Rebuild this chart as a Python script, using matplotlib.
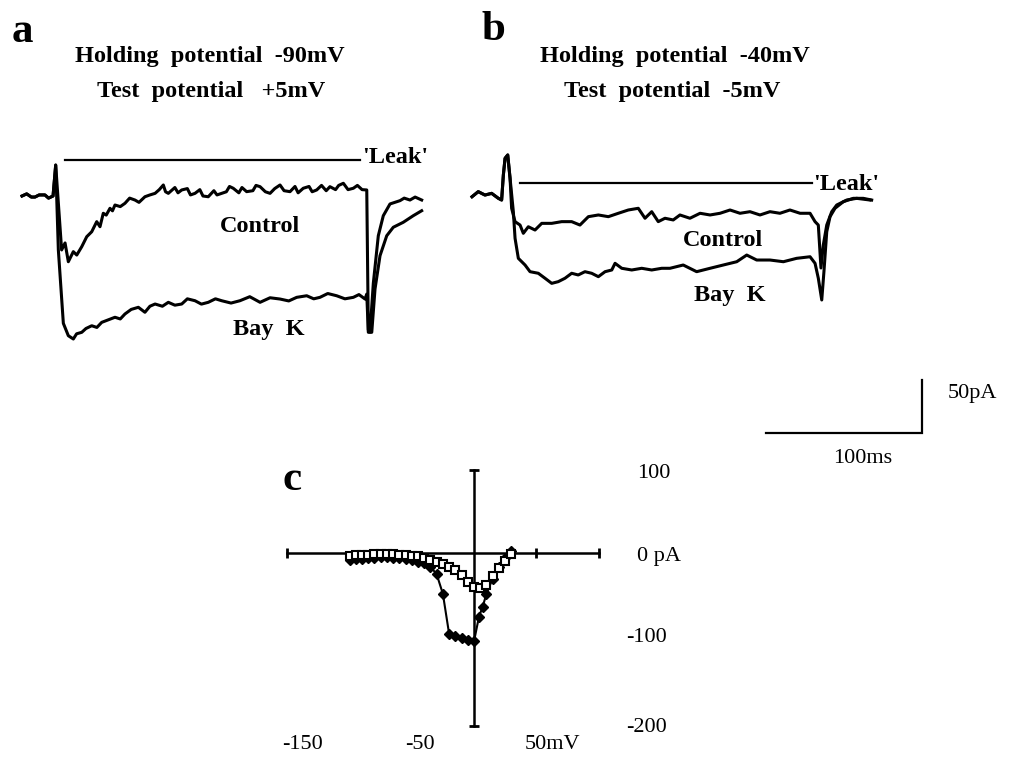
import numpy as np
import matplotlib.pyplot as plt

# Dimensoes da figura em pixels
W, H = 1013, 770

# ---- Dados dos registros (tempo em ms, corrente em pA) ----
# Painel a: potencial de manutencao -90mV, teste +5mV
t_a_control = [0, 3, 6, 8.3, 11, 14.7, 17, 19.9, 21.6, 25.4, 27.6, 29.7, 32.9, 35.1, 38.3, 41.5,
               44.7, 47.9, 50, 52.1, 54, 56.4, 58, 59.6, 63, 66, 69, 72.4, 75, 78.8, 82, 85.3,
               88, 90.6, 92, 93.8, 98, 100, 102.4, 106, 108, 110.9, 114, 116, 119.4, 123, 125,
               128, 131, 133, 135.4, 139, 141, 144, 148, 150, 152.6, 156, 159, 162, 165.4, 168,
               171.8, 175, 177, 180.3, 184, 186, 188.9, 192, 195, 197.4, 201, 203, 206, 209,
               212.4, 215, 218, 221, 222, 223.1, 225.2, 228.4, 231.6, 235.9, 239, 242.3, 245,
               248.7, 252, 256.2]
i_a_control = [0, 2, -1, -1, 1, 1, -2, 0, 29.2, -50.9, -44.3, -62, -52.5, -55.7, -47.8, -38.4,
               -33.7, -24.2, -29, -16.3, -18, -11.6, -14, -8.5, -10, -6.9, -2, -3.8, -6, -0.7,
               1, 2.5, 6, 10.4, 4, 2.5, 8, 3, 5.7, 7, 1, 2.5, 6, 0, -0.7, 5, 1, 2.5, 4, 9, 7.3,
               3, 8, 4.1, 5, 10, 8.8, 4, 2.5, 7, 10.4, 5, 4.1, 9, 3, 7.3, 9, 4, 5.7, 10, 5, 8.8,
               6, 10, 12, 6, 7.3, 10, 6, 5.7, -126.4, -128.3, -82.4, -37.5, -18.6, -7.5, -6,
               -4.4, -2, -3.8, -1, -3.8]

t_a_bayk = [0, 3, 6, 8.3, 11, 14.7, 17, 19.9, 21.6, 23.3, 26.5, 29.7, 32.9, 35, 38.3, 41, 44.7,
            48, 51.1, 55, 59.6, 63, 66, 70, 74.6, 78.8, 82, 85.3, 90, 93.8, 98, 102.4, 106,
            110.9, 115, 119.4, 124, 128, 134, 139.7, 146, 152.6, 159, 165.4, 171, 176.1, 182.5,
            187, 191, 196, 201.7, 207, 212.4, 216, 219.9, 221, 222, 224.2, 226.3, 229.5, 233.8,
            238, 244.4, 250.8, 256.2]
i_a_bayk = [0, 2, -1, -1, 1, 1, -2, 0, 29.2, -50.9, -120.1, -131.8, -134.9, -130, -128.6, -125,
            -122.4, -124, -119.2, -117, -114.4, -116, -111.3, -107, -105, -109.7, -104, -101.9,
            -104, -100.3, -103, -101.9, -97, -98.8, -102, -100.3, -97, -98.8, -101, -98.8, -95,
            -100.3, -96, -97.2, -99, -95.6, -94.1, -97, -95.6, -92, -94.1, -97, -95.6, -93,
            -97.2, -92.5, -128.6, -128.6, -87.7, -56.3, -37.5, -29.5, -24.8, -18.6, -13.9]

leak_a_t = [27.6, 216.7]
leak_a_i = [34, 34]

# Painel b: potencial de manutencao -40mV, teste -5mV
t_b_control = [0, 4, 8.3, 12.6, 16.9, 19, 20.1, 21.2, 22.9, 24.4, 25.4, 27.6, 30.8, 32.9, 36.1,
               40.4, 44.7, 51.1, 57.5, 63.9, 69.2, 74.6, 81, 87.4, 93.8, 100.2, 106.6, 110.9,
               115.2, 119.4, 123.7, 129, 133.3, 139.7, 146.2, 152.6, 159, 165.4, 171.8, 178.2,
               184.6, 191, 197.4, 203.8, 210.3, 216.7, 219.9, 222, 223.7, 225.2, 227.4, 230.6,
               233.8, 240.2, 246.6, 255.1]
i_b_control = [-0.7, 4.1, 0.9, 2.5, -2.2, -3.8, 19.8, 35.6, 38.7, 16.7, -11.6, -24.2, -27.4,
               -35.2, -29, -32.1, -25.8, -25.8, -24.2, -24.2, -27.4, -19.5, -17.9, -19.5, -16.3,
               -13.2, -11.6, -21, -14.8, -24.2, -21, -22.6, -17.9, -21, -16.3, -17.9, -16.3,
               -13.2, -16.3, -14.8, -17.9, -14.8, -16.3, -13.2, -16.3, -16.3, -24.2, -27.4,
               -67.9, -46.2, -27.4, -14.8, -8.5, -3.8, -2.2, -3.8]

t_b_bayk = [0, 4, 8.3, 12.6, 16.9, 19, 20.1, 21.2, 22.9, 24.4, 26.5, 27.6, 29.7, 34, 37.2, 42.5,
            46.8, 51.1, 55.3, 59.6, 63.9, 68.1, 72.4, 76.7, 81, 85.3, 89.6, 91.7, 96, 102.4,
            108.8, 115.2, 121.6, 126.9, 135.4, 144, 152.6, 161.1, 169.7, 176.1, 182.5, 191,
            199.6, 208.1, 216.7, 219.9, 222, 224.2, 225.6, 227.4, 229.5, 232.7, 238, 244.4,
            250.8, 256.2]
i_b_bayk = [-0.7, 4.1, 0.9, 2.5, -2.2, -3.8, 19.8, 35.6, 38.7, 16.7, -14.8, -39.9, -58.8, -65.1,
            -71.4, -72.9, -77.6, -82.4, -80.8, -77.6, -72.9, -74.5, -71.4, -72.9, -76.1, -71.4,
            -69.8, -63.5, -68.2, -69.8, -68.2, -69.8, -68.2, -68.2, -65.1, -71.4, -68.2, -65.1,
            -62, -55.7, -60.4, -60.4, -62, -58.8, -57.3, -63.5, -77.6, -98.1, -71.4, -33.7,
            -19.5, -11.6, -5.4, -2.2, -2.2, -3.8]

leak_b_t = [30.8, 218]
leak_b_i = [12.3, 12.3]

# Barra de escala
escala_ms = 100
escala_pA = 50

# Painel c: curva I-V (mV, pA)
v_control = [-100, -95, -90, -85, -80, -75, -70, -65, -60, -55, -50, -45, -40, -35, -30,
             -25, -20, -15, -10, -5, 0, 5, 10, 15, 20, 25, 30]
i_control = [-3, -2, -2, -2, -1, -1, -1, -1, -2, -2, -3, -4, -6, -8, -11,
             -13, -16, -20, -26, -34, -40, -41, -38, -27, -18, -9, -1]

v_bayk = [-100, -95, -90, -85, -80, -75, -70, -65, -60, -55, -50, -45, -40, -35, -30,
          -25, -20, -15, -10, -5, 0, 4, 7, 10, 15, 20, 25, 30]
i_bayk = [-8, -7, -7, -6, -6, -5, -5, -6, -6, -7, -8, -10, -12, -16, -25,
          -48, -95, -98, -100, -102, -104, -75, -63, -48, -30, -17, -6, 2]

eixo_v = [-150, 100]
eixo_i = [-203, 98]
ticks_v = [-150, 50, 100]

# ---- Figura ----
plt.rcParams['font.family'] = ['Liberation Serif', 'DejaVu Serif']
fig = plt.figure(figsize=(W / 100, H / 100), dpi=100)


def eixo_pixel(x0, y0, sx, sy):
    """Eixo do tamanho da figura em que o ponto (0, 0) fica no pixel (x0, y0)."""
    ax = fig.add_axes([0, 0, 1, 1])
    ax.set_xlim(-x0 / sx, (W - x0) / sx)
    ax.set_ylim((y0 - H) / sy, y0 / sy)
    ax.axis('off')
    ax.patch.set_alpha(0)
    return ax


def texto(x, y, s, **kw):
    fig.text(x / W, 1 - y / H, s, **kw)


px_ms = 1.56   # pixels por ms
px_pA = 1.06   # pixels por pA

ax_a = eixo_pixel(22, 196, px_ms, px_pA)
ax_a.plot(t_a_bayk, i_a_bayk, color='black', lw=2.2)
ax_a.plot(t_a_control, i_a_control, color='black', lw=2.2)
ax_a.plot(leak_a_t, leak_a_i, color='black', lw=1.6)

ax_b = eixo_pixel(472, 196, px_ms, px_pA)
ax_b.plot(t_b_bayk, i_b_bayk, color='black', lw=2.2)
ax_b.plot(t_b_control, i_b_control, color='black', lw=2.2)
ax_b.plot(leak_b_t, leak_b_i, color='black', lw=1.6)

# barra de escala (canto: 288.5 ms, -223.6 pA no eixo b)
x_bar, y_bar = 288.5, -223.6
ax_b.plot([x_bar - escala_ms, x_bar, x_bar], [y_bar, y_bar, y_bar + escala_pA],
          color='black', lw=1.6, solid_joinstyle='miter')

# Painel c
ax_c = eixo_pixel(474, 553, 1.245, 0.85)
ax_c.plot(eixo_v, [0, 0], color='black', lw=1.8)
ax_c.plot([0, 0], eixo_i, color='black', lw=1.8)
ax_c.plot(ticks_v, [0] * len(ticks_v), ls='none', marker='|', ms=7, mew=2, color='black')
ax_c.plot([0, 0], eixo_i, ls='none', marker='_', ms=7, mew=2, color='black')
ax_c.plot(v_bayk, i_bayk, color='black', lw=1.5, marker='D', ms=5.5,
          mfc='black', mec='black')
ax_c.plot(v_control, i_control, color='black', lw=1.5, marker='s', ms=5.5,
          mfc='white', mec='black', mew=1.5)

# ---- Textos ----
bold = dict(fontweight='bold', fontsize=17.5)
texto(12, 42, 'a', fontsize=31, fontweight='bold', va='baseline')
texto(481, 40, 'b', fontsize=31, fontweight='bold', va='baseline')
texto(283, 490, 'c', fontsize=31, fontweight='bold', va='baseline')

texto(210, 62, 'Holding  potential  -90mV', ha='center', va='baseline', **bold)
texto(211, 97, 'Test  potential   +5mV', ha='center', va='baseline', **bold)
texto(675, 62, 'Holding  potential  -40mV', ha='center', va='baseline', **bold)
texto(672, 97, 'Test  potential  -5mV', ha='center', va='baseline', **bold)

texto(362, 163, "'Leak'", ha='left', va='baseline', **bold)
texto(813, 190, "'Leak'", ha='left', va='baseline', **bold)
texto(260, 232, 'Control', ha='center', va='baseline', **bold)
texto(269, 335, 'Bay  K', ha='center', va='baseline', **bold)
texto(723, 246, 'Control', ha='center', va='baseline', **bold)
texto(730, 301, 'Bay  K', ha='center', va='baseline', **bold)

reg = dict(fontsize=16, va='baseline')
texto(972, 398, '50pA', ha='center', **reg)
texto(863, 463, '100ms', ha='center', **reg)

texto(637, 478, '100', ha='left', **reg)
texto(637, 561, '0 pA', ha='left', **reg)
texto(626, 642, '-100', ha='left', **reg)
texto(626, 732, '-200', ha='left', **reg)
texto(302, 749, '-150', ha='center', **reg)
texto(420, 749, '-50', ha='center', **reg)
texto(552, 749, '50mV', ha='center', **reg)

fig.savefig('out.png', dpi=100)
